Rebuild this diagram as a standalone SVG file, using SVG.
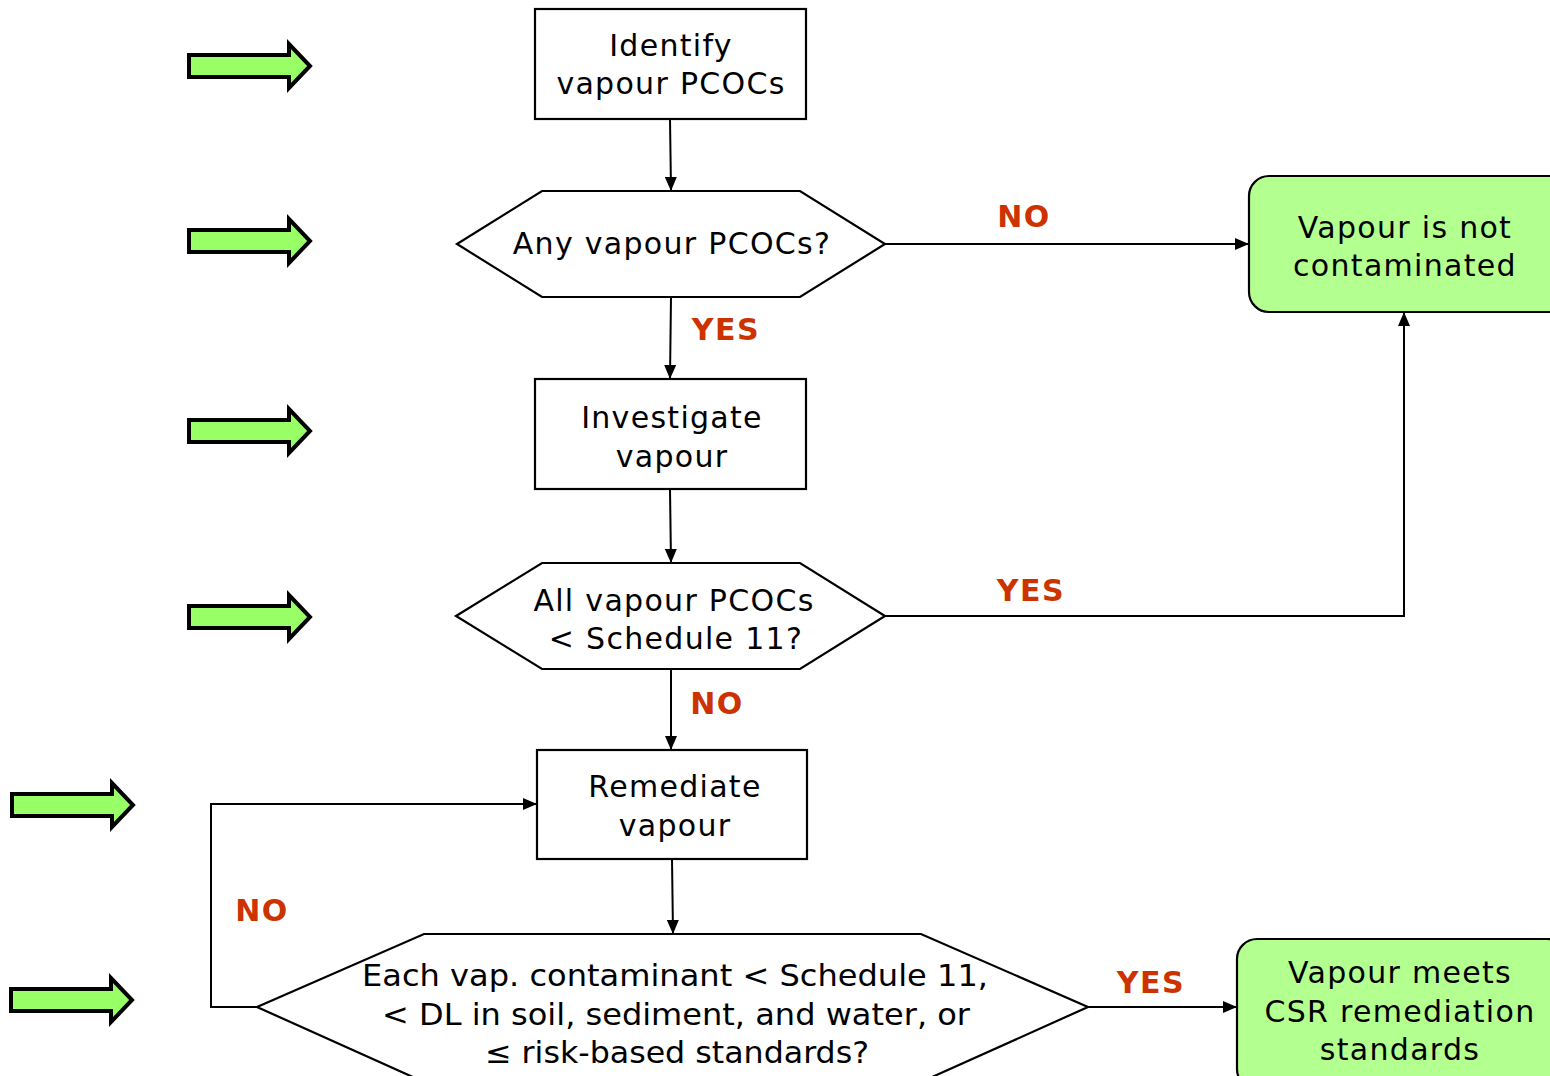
<svg xmlns="http://www.w3.org/2000/svg" width="1550" height="1076" viewBox="0 0 1550 1076">
<defs>
<style>
.n{fill:#fff;stroke:#000;stroke-width:2.2}
.g{fill:#B3FF8F;stroke:#000;stroke-width:2.2}
.t{font-family:"DejaVu Sans","Verdana",sans-serif;font-size:30px;letter-spacing:1.3px;fill:#000;text-anchor:middle}
.tb{font-family:"DejaVu Sans","Verdana",sans-serif;font-size:30px;fill:#000;text-anchor:middle}
.lb{font-family:"DejaVu Sans","Verdana",sans-serif;font-size:30px;letter-spacing:1.5px;font-weight:bold;fill:#CC3300;text-anchor:middle}
.c{fill:none;stroke:#000;stroke-width:2;marker-end:url(#ah)}
.ba{fill:#99FF66;stroke:#000;stroke-width:4}
</style>
<marker id="ah" markerWidth="14" markerHeight="12" refX="13" refY="6" orient="auto" markerUnits="userSpaceOnUse">
<path d="M0,0 L14,6 L0,12 Z" fill="#000"/>
</marker>
<path id="barrow" d="M0,-11 L100,-11 L100,-22 L121,0 L100,22 L100,11 L0,11 Z"/>
</defs>
<rect width="1550" height="1076" fill="#fff"/>
<g id="side-arrows">
<use href="#barrow" class="ba" x="189" y="66"/>
<use href="#barrow" class="ba" x="189" y="241"/>
<use href="#barrow" class="ba" x="189" y="431"/>
<use href="#barrow" class="ba" x="189" y="617"/>
<use href="#barrow" class="ba" x="12" y="805"/>
<use href="#barrow" class="ba" x="11" y="1000"/>
</g>
<g id="connectors">
<path class="c" d="M670,119 L671,190"/>
<path class="c" d="M671,297 L670,378"/>
<path class="c" d="M885,244 L1248,244"/>
<path class="c" d="M670,489 L671,562"/>
<path class="c" d="M885,616 L1404,616 L1404,313"/>
<path class="c" d="M671,669 L671,749"/>
<path class="c" d="M672,859 L673,933"/>
<path class="c" d="M257,1007 L211,1007 L211,804 L536,804"/>
<path class="c" d="M1088,1007 L1236,1007"/>
</g>
<g id="labels">
<text class="lb" x="1024" y="227">NO</text>
<text class="lb" x="726" y="340">YES</text>
<text class="lb" x="1031" y="601">YES</text>
<text class="lb" x="717" y="714">NO</text>
<text class="lb" x="262" y="921">NO</text>
<text class="lb" x="1151" y="993">YES</text>
</g>
<g id="identify">
<rect class="n" x="535" y="9" width="271" height="110"/>
<text class="t" x="671" y="56">Identify</text>
<text class="t" x="671" y="94">vapour PCOCs</text>
</g>
<g id="any-vapour">
<polygon class="n" points="457,244 542,191 800,191 885,244 800,297 542,297"/>
<text class="t" x="672" y="254">Any vapour PCOCs?</text>
</g>
<g id="investigate">
<rect class="n" x="535" y="379" width="271" height="110"/>
<text class="t" x="672" y="428">Investigate</text>
<text class="t" x="672" y="467">vapour</text>
</g>
<g id="all-vapour">
<polygon class="n" points="456,616 542,563 800,563 885,616 800,669 542,669"/>
<text class="t" x="674" y="611">All vapour PCOCs</text>
<text class="t" x="676" y="649">&lt; Schedule 11?</text>
</g>
<g id="remediate">
<rect class="n" x="537" y="750" width="270" height="109"/>
<text class="t" x="675" y="797">Remediate</text>
<text class="t" x="675" y="836">vapour</text>
</g>
<g id="each-vap">
<polygon class="n" points="257,1007 424,934 921,934 1088,1007 921,1082 424,1082"/>
<text class="tb" x="675" y="986" textLength="626" lengthAdjust="spacingAndGlyphs">Each vap. contaminant &lt; Schedule 11,</text>
<text class="tb" x="676" y="1025" textLength="588" lengthAdjust="spacingAndGlyphs">&lt; DL in soil, sediment, and water, or</text>
<text class="tb" x="677" y="1063" textLength="384" lengthAdjust="spacingAndGlyphs">≤ risk-based standards?</text>
</g>
<g id="not-contaminated">
<rect class="g" x="1249" y="176" width="320" height="136" rx="20"/>
<text class="t" x="1405" y="238">Vapour is not</text>
<text class="t" x="1405" y="276">contaminated</text>
</g>
<g id="meets-csr">
<rect class="g" x="1237" y="939" width="330" height="150" rx="20"/>
<text class="t" x="1400" y="983">Vapour meets</text>
<text class="t" x="1400" y="1022">CSR remediation</text>
<text class="t" x="1400" y="1060">standards</text>
</g>
</svg>
